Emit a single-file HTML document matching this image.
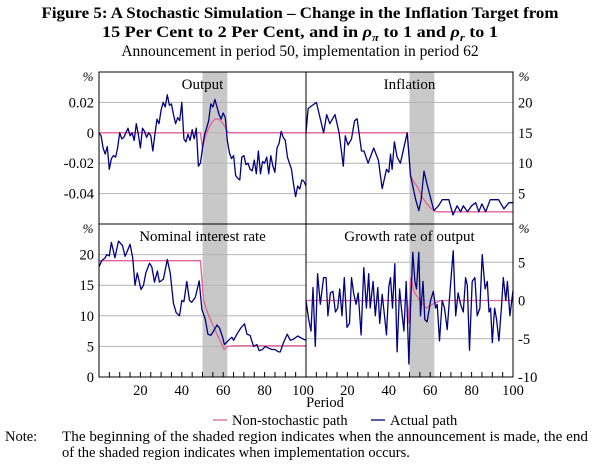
<!DOCTYPE html>
<html><head><meta charset="utf-8"><style>
body{margin:0;background:#fff;width:600px;height:466px;overflow:hidden;font-family:"Liberation Serif",serif;}
svg text{font-family:"Liberation Serif",serif;fill:#000;}
</style></head><body>
<svg id="chart" width="600" height="466" viewBox="0 0 600 466">
<text x="300" y="18" text-anchor="middle" font-size="16" font-weight="bold" textLength="517" lengthAdjust="spacingAndGlyphs">Figure 5: A Stochastic Simulation – Change in the Inflation Target from</text>
<text x="300" y="37" text-anchor="middle" font-size="16" font-weight="bold" textLength="396" lengthAdjust="spacingAndGlyphs">15 Per Cent to 2 Per Cent, and in <tspan font-style="italic">ρ</tspan><tspan font-size="11" dy="4" font-style="italic">π</tspan><tspan dy="-4"> to 1 and </tspan><tspan font-style="italic">ρ</tspan><tspan font-size="11" dy="4" font-style="italic">r</tspan><tspan dy="-4"> to 1</tspan></text>
<text x="300" y="56" text-anchor="middle" font-size="15.5">Announcement in period 50, implementation in period 62</text>
<g id="plots"></g>
<text x="325" y="407" text-anchor="middle" font-size="14.5">Period</text>
<g>
<line x1="213" y1="420" x2="227" y2="420" stroke="#e6609a" stroke-width="1.3"/>
<text x="232" y="425" font-size="14.5">Non-stochastic path</text>
<line x1="371" y1="420" x2="385" y2="420" stroke="#000080" stroke-width="1.3"/>
<text x="390" y="425" font-size="14.5">Actual path</text>
</g>
<text x="5" y="441" font-size="14.5">Note:</text>
<text x="62" y="441" font-size="14.5" textLength="526" lengthAdjust="spacingAndGlyphs">The beginning of the shaded region indicates when the announcement is made, the end</text>
<text x="62" y="457" font-size="14.5">of the shaded region indicates when implementation occurs.</text>
</svg>
<script>
const outputActualP=[0,1,2,3,4,5,6,7,8,9,10,11,12,13,14,15,16,17,18,19,20,21,22,23,24,25,26,27,28,29,30,31,32,33,34,35,36,37,38,39,40,41,42,43,44,45,46,47,48,49,50,51,52,53,54,55,56,57,58,59,60,61,62,63,64,65,66,67,68,69,70,71,72,73,74,75,76,77,78,79,80,81,82,83,84,85,86,87,88,89,90,91,92,93,94,95,96,97,98,99,100];
const outputActualV=[0,-0.002,-0.01,-0.014,-0.009,-0.024,-0.017,-0.015,-0.016,-0.01,0,-0.004,-0.003,0,0.003,-0.002,0,-0.005,0.006,-0.001,-0.01,0.003,0.001,-0.003,0,-0.002,-0.012,-0.001,0.009,0.006,0.015,0.02,0.017,0.025,0.018,0.019,0.012,0.006,0.01,0.008,0.02,-0.004,-0.006,-0.001,-0.005,0.002,-0.004,0.003,-0.022,-0.02,-0.01,-0.001,0.003,0.008,0.019,0.017,0.022,0.017,0.012,0.009,0.013,0.01,-0.005,-0.013,-0.017,-0.015,-0.028,-0.03,-0.031,-0.016,-0.015,-0.021,-0.02,-0.024,-0.025,-0.018,-0.027,-0.012,-0.027,-0.019,-0.02,-0.016,-0.027,-0.015,-0.022,-0.026,-0.01,-0.007,0.001,-0.003,-0.005,-0.016,-0.02,-0.024,-0.034,-0.042,-0.035,-0.037,-0.031,-0.032,-0.035];
const outputPathP=[0,49,50,51,52,54,56,58,60,62,63,100];
const outputPathV=[0,0,-0.01,-0.004,0,0.006,0.009,0.009,0.006,0.001,0,0];

const inflActualP=[0,1,5,8.5,10,11.5,14,16,18,19,20.3,22,23.5,24.7,26.8,28,30,32.7,35,36.8,38.9,40,40.8,41.6,42.7,44,45.6,48.9,50.5,53,54.5,55.6,57,58.5,61.8,64,65.8,69,71,73,74.7,76,78,80,82,83.5,85,86.8,89,93,95.6,98,100];
const inflActualV=[15,19,20,15,18,16.5,18,15,9.5,14.5,13,14,17,17.3,12,12,10,12.5,10.5,5.8,9,8.5,11.5,9,13.5,11,10,15,8,4,2.2,4,8.7,6.5,2.2,3,4,4,1.5,3,2,3,2,3,3.5,2,3.3,2,4,4,2.5,3.5,3.5];
const inflPathP=[0,49,50.5,52,54,56,58,60,61.8,63,100];
const inflPathV=[15,15,8,7,6,4.5,3.5,2.7,2.2,2,2];

const rateActualP=[0,1.3,3,3.7,5,6,7.7,9.4,11.3,12.6,15,16.3,17.4,18.5,20.3,21.5,22.6,24.4,25.5,26.8,28.2,29.2,31.1,33,34.4,36,37.3,38.9,40,41,42.4,43.7,44.8,46.5,48.4,49.7,51.3,52.6,54,55.3,57,58.2,59.7,60.6,62.6,64.2,65,66.6,68.5,70.3,71.5,73,74.7,76.3,77.4,79,80.3,82,83.5,85,86.8,87.6,89,90.9,92.4,94,96,98,100];
const rateActualV=[18,19,19.5,20,19.8,22,19.5,22.2,21.5,19.7,21.7,19.5,15,17,14.3,15,17,18.6,18,15.5,17.3,15.5,16,19.2,17,12,10.5,10,12.5,12.3,15.6,12.5,12.2,13,15.7,11,9.5,7,6.8,7.5,8.5,8,6.5,5.3,6,6.5,6,7,8,8.7,7,6.8,5,5.3,4.3,4.5,5,4.7,4.5,4.5,4.1,4.1,5.5,7,6,6.2,6.7,6.3,6];
const ratePathP=[0,49,50.5,53,57,60.5,62,65,100];
const ratePathV=[19,19,12.5,10,7,4.5,5,5.1,5.1];

const growthActualP=[0,1.3,2.4,3.4,4.5,5.6,6.9,8.5,9.7,10.6,11.8,13,14.2,15.3,16.3,17.4,18.5,19.8,21,22,23,24.2,25.2,26.6,27.9,29.2,30.3,31,32.4,33.5,34.7,35.6,36.8,37.9,38.9,40,40.8,41.8,42.9,44,45.2,46.1,47.3,48.4,49.7,50.5,51.6,52.6,53.4,54.5,55.3,56.5,57.4,58.5,60.2,61.5,62.6,63.4,64.5,65.8,66.9,68.2,69.5,71.1,72.3,73.5,74.7,76,77.1,77.9,79,80.3,81.6,82.7,84,85.1,86.5,87.6,88.4,89.2,90,91.1,92.1,93.2,94.4,95.3,96.5,97.3,98.5,100];
const growthActualV=[0,-2.5,-4,1.7,-6,3.5,-0.5,3,3,-2,1,1.2,-1.5,-1,1.5,-2,3,-3.5,-3,3,1,-0.5,1,-4.5,4.3,-1,3.5,-1,2.5,-2,1.7,-3,0.8,-2,-4.5,1.8,3,-1,4.8,-6.7,1.5,-1,-4,2.5,-8.3,-1,6.3,2.5,1.5,6.3,-2,2.5,-2.5,-2.8,0,1.2,-1,-0.5,-5.3,0,-1,-3.8,1,6.5,-2,1,-0.5,-1.5,3,2,-6.5,2.5,3,-2,-1,6,1.5,2.5,-1.5,-1,-5.5,-1,-2.5,-5.3,-1,3,0,2.5,-2,1.3];
const growthPathP=[0,49,49.7,50.5,52.5,55,58,61,65,100];
const growthPathV=[0,0,-3,3,1,0,-1,-0.5,0,0];

const xTickLabels=[20,40,60,80,100];
const NS="http://www.w3.org/2000/svg";
const root=document.getElementById('plots');
function mk(tag,attrs,parent){const e=document.createElementNS(NS,tag);for(const k in attrs)e.setAttribute(k,attrs[k]);(parent||root).appendChild(e);return e;}
const L=99,M=306,R=513,T=72,MID=224,B=377;
const panels=[
 {name:'output',x0:L,x1:M,y0:T,y1:MID,min:-0.06,max:0.04,ticks:[-0.04,-0.02,0,0.02],labels:['-0.04','-0.02','0','0.02'],side:'left',title:'Output',aP:outputActualP,aV:outputActualV,pP:outputPathP,pV:outputPathV},
 {name:'inflation',x0:M,x1:R,y0:T,y1:MID,min:0,max:25,ticks:[5,10,15,20],labels:['5','10','15','20'],side:'right',title:'Inflation',aP:inflActualP,aV:inflActualV,pP:inflPathP,pV:inflPathV},
 {name:'nominal-interest-rate',x0:L,x1:M,y0:MID,y1:B,min:0,max:25,ticks:[0,5,10,15,20],labels:['0','5','10','15','20'],side:'left',title:'Nominal interest rate',aP:rateActualP,aV:rateActualV,pP:ratePathP,pV:ratePathV},
 {name:'growth-rate-of-output',x0:M,x1:R,y0:MID,y1:B,min:-10,max:10,ticks:[-10,-5,0,5],labels:['-10','-5','0','5'],side:'right',title:'Growth rate of output',aP:growthActualP,aV:growthActualV,pP:growthPathP,pV:growthPathV}
];
panels.forEach(p=>{
 const g=mk('g',{});
 
 
 const xs=v=>p.x0+v/100*(p.x1-p.x0);
 const ys=v=>p.y1-(v-p.min)/(p.max-p.min)*(p.y1-p.y0);
 const sh=mk('rect',{x:xs(50),y:p.y0,width:xs(62)-xs(50),height:p.y1-p.y0,fill:'#c8c8c8'},g);
 
 
 p.ticks.forEach((t,i)=>{
  const y=ys(t);
  if(y>p.y0+1&&y<p.y1-1){const gl=mk('line',{x1:p.x0,x2:p.x1,y1:y,y2:y,stroke:'#b4b4b4','stroke-width':1},g);
   
   }
  const tx=mk('text',{x:p.side==='left'?p.x0-5:p.x1+5,y:y+5,'font-size':14.5,'text-anchor':p.side==='left'?'end':'start'},g);
  tx.textContent=p.labels[i];
  
  
 });
 const pc=mk('text',{x:p.side==='left'?p.x0-11:p.x1+11,y:p.y0+9,'font-size':13,'text-anchor':'middle','font-style':'italic'},g);
 pc.textContent='%';
 
 
 const tt=mk('text',{x:(p.x0+p.x1)/2,y:p.y0+17,'font-size':15,'text-anchor':'middle'},g);
 tt.textContent=p.title;
 
 
 let d1=p.pP.map((v,i)=>(i?'L':'M')+xs(v).toFixed(1)+','+ys(p.pV[i]).toFixed(1)).join('');
 const pl=mk('path',{d:d1,fill:'none',stroke:'#e6609a','stroke-width':1.3},g);
 
 
 let d2=p.aP.map((v,i)=>(i?'L':'M')+xs(v).toFixed(1)+','+ys(p.aV[i]).toFixed(1)).join('');
 const al=mk('path',{d:d2,fill:'none',stroke:'#000080','stroke-width':1.3,'stroke-linejoin':'round'},g);
 
 
 if(p.y1===B){
  for(let k=5;k<100;k+=5){const tk=mk('line',{x1:xs(k),x2:xs(k),y1:B,y2:B-5,stroke:'#000','stroke-width':1},g);
   
   }
  xTickLabels.forEach(v=>{const t=mk('text',{x:xs(v)-(v===100&&p.side==='left'?3:0),y:395,'font-size':14.5,'text-anchor':'middle'},g);
   t.textContent=v;
   
   });
 }
 const bd=mk('rect',{x:p.x0,y:p.y0,width:p.x1-p.x0,height:p.y1-p.y0,fill:'none',stroke:'#000','stroke-width':1},g);
 
 
});
</script>
</body></html>
